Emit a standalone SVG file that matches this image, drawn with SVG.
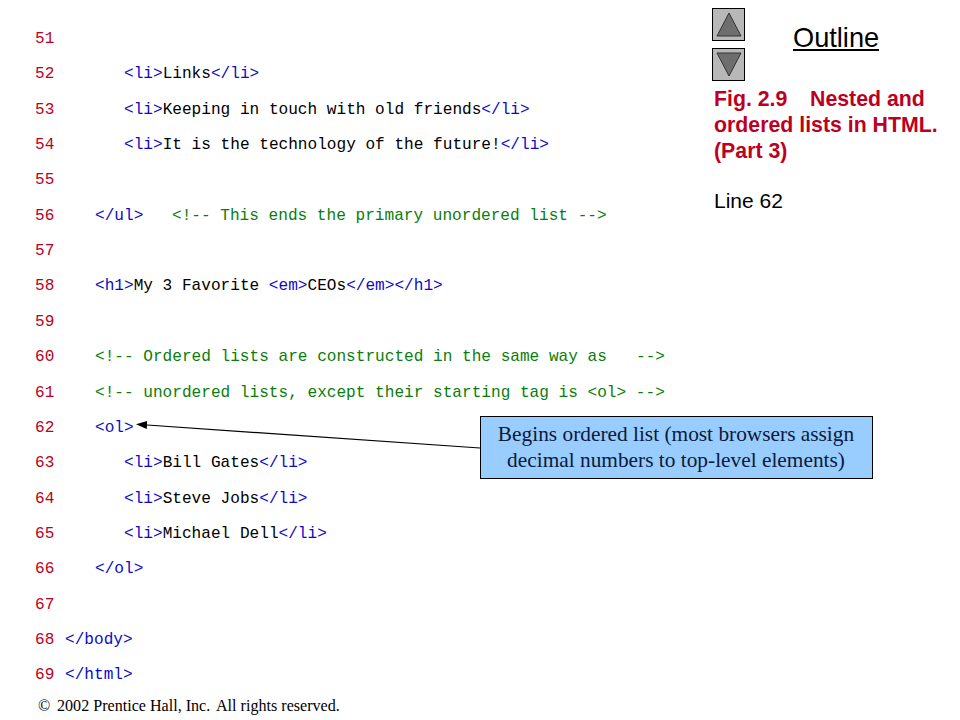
<svg xmlns="http://www.w3.org/2000/svg" width="960" height="720" viewBox="0 0 960 720">
<style>
.c{font-family:"Liberation Mono","Courier New",monospace;font-size:16.1px;fill:#000}
.n{fill:#bc0022}.t{fill:#0b0bc8}.g{fill:#0a7d0a}
.s{font-family:"Liberation Sans",Arial,sans-serif}
.r{font-family:"Liberation Serif","Times New Roman",serif}
.btn{fill:#b8b8b8;stroke:#000;stroke-width:1}
.tri{fill:#6e6e6e;stroke:#333;stroke-width:1}
</style>
<defs><marker id="ah" markerUnits="userSpaceOnUse" markerWidth="11" markerHeight="8" refX="0" refY="4" orient="auto"><path d="M0 0L11 4L0 8Z" fill="#000"/></marker></defs>
<rect width="960" height="720" fill="#fff"/>
<g id="code" class="c">
<text x="35" y="43" class="n">51</text>
<text x="35" y="78"><tspan class="n">52</tspan><tspan x="124" class="t">&lt;li&gt;</tspan>Links<tspan class="t">&lt;/li&gt;</tspan></text>
<text x="35" y="114"><tspan class="n">53</tspan><tspan x="124" class="t">&lt;li&gt;</tspan>Keeping in touch with old friends<tspan class="t">&lt;/li&gt;</tspan></text>
<text x="35" y="149"><tspan class="n">54</tspan><tspan x="124" class="t">&lt;li&gt;</tspan>It is the technology of the future!<tspan class="t">&lt;/li&gt;</tspan></text>
<text x="35" y="184" class="n">55</text>
<text x="35" y="220"><tspan class="n">56</tspan><tspan x="95" class="t">&lt;/ul&gt;</tspan><tspan x="172" class="g">&lt;!-- This ends the primary unordered list --&gt;</tspan></text>
<text x="35" y="255" class="n">57</text>
<text x="35" y="290"><tspan class="n">58</tspan><tspan x="95" class="t">&lt;h1&gt;</tspan>My 3 Favorite <tspan class="t">&lt;em&gt;</tspan>CEOs<tspan class="t">&lt;/em&gt;&lt;/h1&gt;</tspan></text>
<text x="35" y="326" class="n">59</text>
<text x="35" y="361"><tspan class="n">60</tspan><tspan x="95" class="g">&lt;!-- Ordered lists are constructed in the same way as</tspan><tspan x="636" class="g">--&gt;</tspan></text>
<text x="35" y="397"><tspan class="n">61</tspan><tspan x="95" class="g">&lt;!-- unordered lists, except their starting tag is &lt;ol&gt; --&gt;</tspan></text>
<text x="35" y="432"><tspan class="n">62</tspan><tspan x="95" class="t">&lt;ol&gt;</tspan></text>
<text x="35" y="467"><tspan class="n">63</tspan><tspan x="124" class="t">&lt;li&gt;</tspan>Bill Gates<tspan class="t">&lt;/li&gt;</tspan></text>
<text x="35" y="503"><tspan class="n">64</tspan><tspan x="124" class="t">&lt;li&gt;</tspan>Steve Jobs<tspan class="t">&lt;/li&gt;</tspan></text>
<text x="35" y="538"><tspan class="n">65</tspan><tspan x="124" class="t">&lt;li&gt;</tspan>Michael Dell<tspan class="t">&lt;/li&gt;</tspan></text>
<text x="35" y="573"><tspan class="n">66</tspan><tspan x="95" class="t">&lt;/ol&gt;</tspan></text>
<text x="35" y="609" class="n">67</text>
<text x="35" y="644"><tspan class="n">68</tspan><tspan x="65" class="t">&lt;/body&gt;</tspan></text>
<text x="35" y="679"><tspan class="n">69</tspan><tspan x="65" class="t">&lt;/html&gt;</tspan></text>
</g>
<g id="nav-up"><rect class="btn" x="712.500" y="8.500" width="32" height="32"/><path class="tri" d="M729 13L741 36H717Z"/></g>
<g id="nav-down"><rect class="btn" x="712.500" y="48.500" width="32" height="32"/><path class="tri" d="M729 76L741 53H717Z"/></g>
<g id="outline"><text x="793" y="47" class="s" font-size="27.200" fill="#000">Outline</text><rect x="793" y="49" width="86" height="2" fill="#000"/></g>
<g id="caption" class="s" font-size="21.300" font-weight="700" fill="#bc0022">
<text x="714" y="106">Fig. 2.9<tspan x="810">Nested and</tspan></text>
<text x="714" y="132">ordered lists in HTML.</text>
<text x="714" y="158">(Part 3)</text>
</g>
<text id="line-ref" x="714" y="208" class="s" font-size="21" fill="#000">Line 62</text>
<g id="connectors"><line x1="480" y1="448" x2="147" y2="425" stroke="#000" stroke-width="1.200" marker-end="url(#ah)"/></g>
<g id="callout"><rect x="480.500" y="416.500" width="392" height="62" fill="#99ccff" stroke="#000" stroke-width="1"/>
<text x="676" y="441" text-anchor="middle" class="r" font-size="21.350" fill="#0a1a3a">Begins ordered list (most browsers assign</text>
<text x="676" y="467" text-anchor="middle" class="r" font-size="21.350" fill="#0a1a3a">decimal numbers to top-level elements)</text></g>
<text id="copyright" x="38" y="711" class="r" font-size="16.100" fill="#000">©<tspan x="57">2002 Prentice Hall, Inc.</tspan><tspan x="216">All rights reserved.</tspan></text>
</svg>
